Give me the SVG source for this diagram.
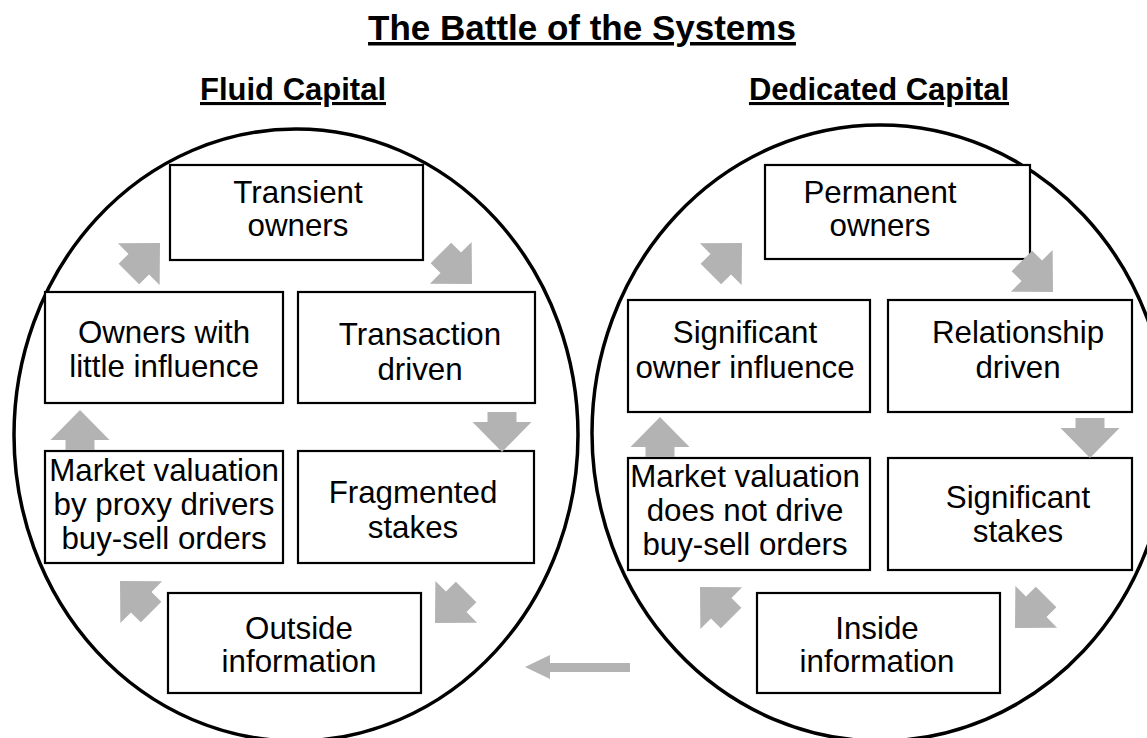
<svg xmlns="http://www.w3.org/2000/svg" width="1147" height="738" viewBox="0 0 1147 738">
<style>
.bg{fill:#ffffff}
.ring{fill:none;stroke:#000;stroke-width:3.5}
.box{fill:#fff;stroke:#000;stroke-width:2.2}
.t{font-family:"Liberation Sans",Arial,sans-serif;font-size:31.3px;fill:#000;text-anchor:middle}
.h{font-family:"Liberation Sans",Arial,sans-serif;font-weight:bold;fill:#000;text-anchor:middle;text-decoration:underline}
.arr{fill:#b3b3b3}
</style>
<defs>
<path id="blk" d="M0,0 L-30,-29.5 L-30,-14.5 L-44,-14.5 L-44,14.5 L-30,14.5 L-30,29.5 Z"/>
<path id="blkv" d="M0,0 L-30,-29.5 L-30,-14.5 L-40,-14.5 L-40,14.5 L-30,14.5 L-30,29.5 Z"/>
</defs>
<rect class="bg" x="0" y="0" width="1147" height="738"/>
<g id="titles">
<text class="h" x="582" y="40" font-size="35">The Battle of the Systems</text>
<text class="h" x="293" y="100" font-size="31">Fluid Capital</text>
<text class="h" x="879" y="100" font-size="31">Dedicated Capital</text>
</g>
<g id="fluid-circle"><ellipse class="ring" cx="296" cy="435" rx="282" ry="306"/></g>
<g id="dedicated-circle"><ellipse class="ring" cx="880" cy="433" rx="288" ry="308"/></g>
<g id="transient-owners"><rect class="box" x="170" y="165" width="253" height="95"/><text class="t" x="298" y="203">Transient</text><text class="t" x="298" y="236">owners</text></g>
<g id="owners-little-influence"><rect class="box" x="45" y="292" width="238" height="111"/><text class="t" x="164" y="343">Owners with</text><text class="t" x="164" y="377">little influence</text></g>
<g id="transaction-driven"><rect class="box" x="298" y="292" width="237" height="111"/><text class="t" x="420" y="345">Transaction</text><text class="t" x="420" y="380">driven</text></g>
<g id="market-valuation-proxy"><rect class="box" x="45" y="451" width="238" height="112"/><text class="t" x="164" y="481">Market valuation</text><text class="t" x="164" y="515">by proxy drivers</text><text class="t" x="164" y="549">buy-sell orders</text></g>
<g id="fragmented-stakes"><rect class="box" x="298" y="451" width="236" height="112"/><text class="t" x="413" y="503">Fragmented</text><text class="t" x="413" y="538">stakes</text></g>
<g id="outside-information"><rect class="box" x="168" y="593" width="253" height="100"/><text class="t" x="299" y="639">Outside</text><text class="t" x="299" y="672">information</text></g>
<g id="permanent-owners"><rect class="box" x="765" y="165" width="265" height="94"/><text class="t" x="880" y="203">Permanent</text><text class="t" x="880" y="236">owners</text></g>
<g id="significant-owner-influence"><rect class="box" x="628" y="300" width="242" height="112"/><text class="t" x="745" y="343">Significant</text><text class="t" x="745" y="378">owner influence</text></g>
<g id="relationship-driven"><rect class="box" x="888" y="300" width="244" height="112"/><text class="t" x="1018" y="343">Relationship</text><text class="t" x="1018" y="378">driven</text></g>
<g id="market-valuation-no-drive"><rect class="box" x="628" y="458" width="242" height="112"/><text class="t" x="745" y="487">Market valuation</text><text class="t" x="745" y="521">does not drive</text><text class="t" x="745" y="555">buy-sell orders</text></g>
<g id="significant-stakes"><rect class="box" x="888" y="458" width="244" height="112"/><text class="t" x="1018" y="508">Significant</text><text class="t" x="1018" y="542">stakes</text></g>
<g id="inside-information"><rect class="box" x="757" y="593" width="243" height="100"/><text class="t" x="877" y="639">Inside</text><text class="t" x="877" y="672">information</text></g>
<g id="connectors" class="arr">
<use href="#blk" transform="translate(160,243) rotate(-45)"/>
<use href="#blk" transform="translate(472,284) rotate(45)"/>
<use href="#blkv" transform="translate(502,452) rotate(90)"/>
<use href="#blk" transform="translate(435,623) rotate(135)"/>
<use href="#blk" transform="translate(120,581) rotate(-135)"/>
<use href="#blkv" transform="translate(80,410) rotate(-90)"/>
<use href="#blk" transform="translate(742,243) rotate(-45)"/>
<use href="#blk" transform="translate(1053,292) rotate(45)"/>
<use href="#blkv" transform="translate(1090,458) rotate(90)"/>
<use href="#blk" transform="translate(1015,628) rotate(135)"/>
<use href="#blk" transform="translate(700,587) rotate(-135)"/>
<use href="#blkv" transform="translate(660,417) rotate(-90)"/>
<path d="M525,667 L550,655 L550,663 L630,663 L630,672 L550,672 L550,679 Z"/>
</g>
</svg>
